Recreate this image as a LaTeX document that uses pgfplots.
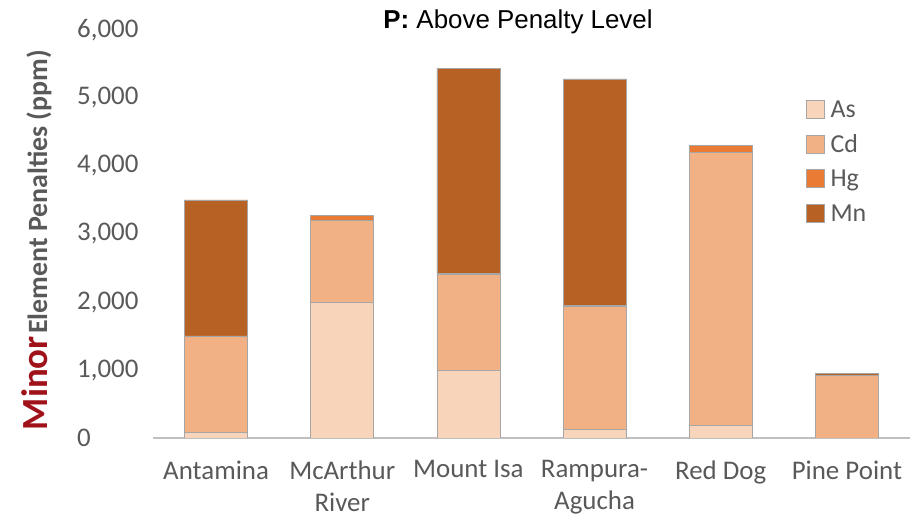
\documentclass[border=0pt]{standalone}
\usepackage{pgfplots}
\pgfplotsset{compat=1.18}
\usepackage{fontspec}
\setmainfont{Carlito}
\newfontfamily\arialfont{Liberation Sans}
\definecolor{cAs}{HTML}{F8D4BA}
\definecolor{cCd}{HTML}{F2B184}
\definecolor{cHg}{HTML}{E97B35}
\definecolor{cMn}{HTML}{B86125}
\definecolor{txtgray}{HTML}{595959}
\definecolor{minorred}{HTML}{A0121A}
\definecolor{axgray}{HTML}{BFBFBF}
\definecolor{bargray}{HTML}{A6A6A6}
\pgfplotsset{
  mybar/.style={fill=#1, draw=bargray, line width=0.8bp,
    legend image code/.code={\draw[fill=#1, draw=bargray, line width=0.8bp] (0bp,-9bp) rectangle (18bp,9bp); \path (22bp,0bp);}}
}
\begin{document}
\begin{tikzpicture}[x=1bp,y=1bp]
\path[use as bounding box] (0,0) rectangle (912,520);
\begin{axis}[
  at={(153bp,82bp)}, anchor=south west,
  scale only axis, width=757bp, height=408bp,
  xmin=-0.5, xmax=5.5, ymin=0, ymax=6000,
  ybar stacked, bar width=63bp,
  xtick={0,1,2,3,4,5},
  xticklabels={Antamina, McArthur\\River, Mount Isa, Rampura-\\Agucha, Red Dog, Pine Point},
  xticklabel style={align=center, font=\fontsize{27}{32}\selectfont, text=txtgray, yshift=-19bp},
  ytick={0,1000,2000,3000,4000,5000,6000},
  yticklabel style={font=\fontsize{27}{27}\selectfont, text=txtgray, anchor=west, inner sep=0pt, xshift=-76bp},
  /pgf/number format/1000 sep={,},
  /pgf/number format/assume math mode=true,
  axis x line*=bottom, axis y line*=left,
  y axis line style={draw=none},
  x axis line style={draw=axgray, line width=1.8bp, -},
  major tick length=0pt,
  tick style={draw=none},
  ylabel={\textcolor{minorred}{\fontsize{37}{37}\selectfont\bfseries Minor} \textcolor{txtgray}{\fontsize{28}{28}\selectfont\bfseries Element Penalties (ppm)}},
  ylabel style={at={(axis description cs:-0.1400,0.485)}, anchor=base},
  legend style={at={(axis description cs:0.862,0.835)}, anchor=north west, draw=none, fill=none,
    font=\fontsize{26}{26}\selectfont, text=txtgray, row sep=11.2bp,
    cells={anchor=west, text height=18bp, text depth=5bp, inner sep=2bp},
    inner sep=0pt},
  legend cell align=left,
]
\addplot+[mybar=cAs] coordinates {(0,80) (1,2000) (2,1000) (3,120) (4,180) (5,0)};
\addplot+[mybar=cCd] coordinates {(0,1420) (1,1200) (2,1400) (3,1810) (4,4020) (5,915)};
\addplot+[mybar=cHg] coordinates {(0,0) (1,70) (2,20) (3,20) (4,100) (5,0)};
\addplot+[mybar=cMn] coordinates {(0,2000) (1,0) (2,3020) (3,3330) (4,0) (5,30)};
\legend{As, Cd, Hg, Mn}
\end{axis}
\node[font=\arialfont\fontsize{26}{26}\selectfont] at (518,498) {\textbf{P:} Above Penalty Level};
\end{tikzpicture}
\end{document}
